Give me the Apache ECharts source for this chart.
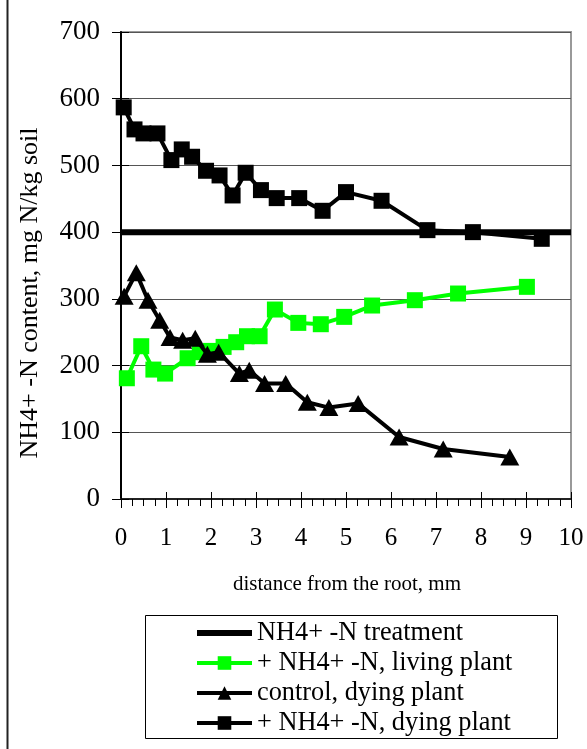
<!DOCTYPE html>
<html>
<head>
<meta charset="utf-8">
<script src="https://cdn.jsdelivr.net/npm/echarts@6/dist/echarts.min.js"></script>
<style>
html,body{margin:0;padding:0;background:#fff;}
#chart{width:587px;height:749px;}
</style>
</head>
<body>
<div id="chart"></div>
<script>
// ---- data ----
const seriesNames = [
  'NH4+ -N treatment',
  '+ NH4+ -N, living plant',
  'control, dying plant',
  '+ NH4+ -N, dying plant'
];
const treatmentX = [0, 10];
const treatmentY = [400, 400];

const livingX = [0.13, 0.45, 0.72, 0.98, 1.48, 1.75, 2.0, 2.28, 2.56, 2.80, 3.08, 3.42, 3.94, 4.44, 4.96, 5.58, 6.53, 7.49, 9.02];
const livingY = [181, 229, 194, 188, 211, 220, 222, 228, 235, 244, 244, 284, 264, 262, 273, 290, 298, 308, 318];

const controlX = [0.07, 0.34, 0.60, 0.86, 1.09, 1.37, 1.65, 1.92, 2.17, 2.63, 2.85, 3.19, 3.66, 4.14, 4.62, 5.27, 6.18, 7.16, 8.64];
const controlY = [304, 339, 298, 268, 242, 238, 241, 217, 220, 188, 193, 173, 173, 145, 137, 143, 93, 75, 63];

const dyingX = [0.06, 0.30, 0.50, 0.81, 1.12, 1.35, 1.58, 1.89, 2.19, 2.48, 2.77, 3.11, 3.46, 3.96, 4.48, 5.00, 5.79, 6.81, 7.82, 9.35];
const dyingY = [587, 554, 548, 548, 508, 524, 513, 492, 485, 455, 489, 463, 451, 451, 432, 460, 447, 403, 400, 390];

const xTitle = 'distance from the root, mm';
const yTitle = 'NH4+ -N content, mg N/kg soil';

const pairs = (xs, ys) => xs.map((x, i) => [x, ys[i]]);
const FONT = '"Liberation Serif", "Times New Roman", serif';

const chart = echarts.init(document.getElementById('chart'), null, {renderer: 'canvas'});
chart.setOption({
  animation: false,
  backgroundColor: '#fff',
  textStyle: {fontFamily: FONT, color: '#000'},
  grid: {left: 121, right: 16, top: 32, bottom: 250, show: true, borderColor: '#999', borderWidth: 2, backgroundColor: 'transparent'},
  xAxis: [{
    type: 'value', min: 0, max: 10, interval: 1,
    axisLine: {show: true, onZero: false, lineStyle: {color: '#222', width: 2}},
    axisTick: {show: true, length: 9, lineStyle: {color: '#000', width: 1}},
    minorTick: {show: true, splitNumber: 4, length: 7, lineStyle: {color: '#000', width: 1}},
    axisLabel: {fontSize: 25, color: '#000', fontFamily: FONT, margin: 27},
    splitLine: {show: false}
  }, {
    type: 'value', min: 0, max: 10, interval: 1, position: 'bottom',
    axisLine: {show: false},
    axisTick: {show: true, inside: true, length: 7, lineStyle: {color: '#000', width: 1}},
    axisLabel: {show: false}, splitLine: {show: false}
  }],
  yAxis: [{
    type: 'value', min: 0, max: 700, interval: 100,
    axisLine: {show: true, onZero: false, lineStyle: {color: '#000', width: 2}},
    axisTick: {show: true, length: 9, lineStyle: {color: '#000', width: 1}},
    axisLabel: {fontSize: 27, color: '#000', fontFamily: FONT, margin: 21},
    splitLine: {show: true, lineStyle: {color: '#555', width: 1}}
  }, {
    type: 'value', min: 0, max: 700, interval: 100, position: 'left',
    axisLine: {show: false},
    axisTick: {show: true, inside: true, length: 8, lineStyle: {color: '#000', width: 1}},
    axisLabel: {show: false}, splitLine: {show: false}
  }],
  legend: {
    orient: 'vertical', left: 194, top: 618, padding: 0, itemGap: 0,
    itemWidth: 55, itemHeight: 17,
    data: [
      {name: seriesNames[0], itemStyle: {opacity: 0}, lineStyle: {width: 6}},
      {name: seriesNames[1], lineStyle: {width: 4}},
      {name: seriesNames[2], lineStyle: {width: 4}},
      {name: seriesNames[3], lineStyle: {width: 4}}
    ],
    textStyle: {fontSize: 26.3, lineHeight: 30, color: '#000', fontFamily: FONT}
  },
  graphic: [
    {type: 'rect', shape: {x: 145.5, y: 615.5, width: 412, height: 123}, style: {fill: 'none', stroke: '#000', lineWidth: 1}, z: -1},
    {type: 'line', shape: {x1: 7.5, y1: 0, x2: 7.5, y2: 749}, style: {stroke: '#222', lineWidth: 2}},
    {type: 'text', x: 30, y: 293, rotation: Math.PI / 2,
     style: {text: yTitle, font: '26px ' + FONT, fill: '#000', textAlign: 'center', textVerticalAlign: 'middle'}},
    {type: 'text', x: 347, y: 584,
     style: {text: xTitle, font: '21px ' + FONT, fill: '#000', textAlign: 'center', textVerticalAlign: 'middle'}}
  ],
  series: [
    {name: seriesNames[0], type: 'line', data: pairs(treatmentX, treatmentY), symbol: 'none',
     lineStyle: {color: '#000', width: 6}, itemStyle: {color: '#000'}, z: 2},
    {name: seriesNames[1], type: 'line', data: pairs(livingX, livingY), symbol: 'rect', symbolSize: 16,
     lineStyle: {color: '#00ff00', width: 4}, itemStyle: {color: '#00ff00'}, z: 3},
    {name: seriesNames[2], type: 'line', data: pairs(controlX, controlY), symbol: 'triangle', symbolSize: [19, 17],
     lineStyle: {color: '#000', width: 4}, itemStyle: {color: '#000'}, z: 4},
    {name: seriesNames[3], type: 'line', data: pairs(dyingX, dyingY), symbol: 'rect', symbolSize: 16,
     lineStyle: {color: '#000', width: 4}, itemStyle: {color: '#000'}, z: 5}
  ]
});
</script>
</body>
</html>
